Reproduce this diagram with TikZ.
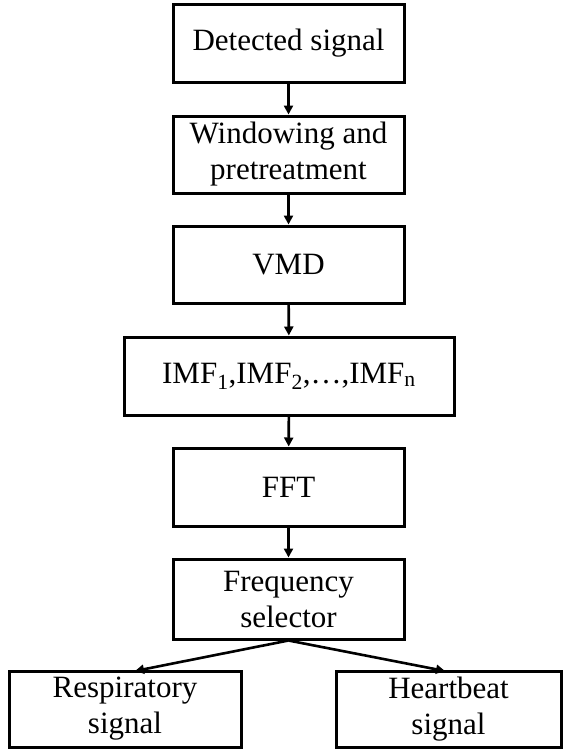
\documentclass[tikz,border=0pt]{standalone}
\usepackage{fontspec}
\setmainfont{Liberation Serif}
\usetikzlibrary{arrows.meta}
\begin{document}
\begin{tikzpicture}[x=1pt,y=-1pt,
  box/.style={draw, line width=3pt, minimum height=78pt, align=center, inner sep=2pt,
    font=\fontsize{31}{36}\selectfont},
  conn/.style={line width=2.6pt, -{Triangle[length=9pt,width=9pt]}}]
\useasboundingbox (0,0) rectangle (563,750);
\node[box, minimum width=231pt] (b1) at (288.5,43) {Detected signal};
\node[box, minimum width=231pt, minimum height=77pt] (b2) at (288.5,154.5) {Windowing and\\pretreatment};
\node[box, minimum width=231pt, minimum height=77pt] (b3) at (288.5,264.5) {VMD};
\node[box, minimum width=330pt] (b4) at (289,376) {IMF\textsubscript{1},IMF\textsubscript{2},\ldots,IMF\textsubscript{n}};
\node[box, minimum width=231pt] (b5) at (288.5,487) {FFT};
\node[box, minimum width=231pt, minimum height=80pt] (b6) at (288.5,599) {Frequency\\selector};
\node[box, minimum width=232pt, minimum height=76pt] (b7) at (125,709) {Respiratory\\signal};
\node[box, minimum width=225pt, minimum height=76pt] (b8) at (448.5,709) {Heartbeat\\signal};
\coordinate (t7) at (135,671);
\coordinate (t8) at (445,671);
\draw[conn] (b1) -- (b2);
\draw[conn] (b2) -- (b3);
\draw[conn] (b3) -- (b4);
\draw[conn] (b4) -- (b5);
\draw[conn] (b5) -- (b6);
\draw[conn] (b6.south) -- (t7);
\draw[conn] (b6.south) -- (t8);
\end{tikzpicture}
\end{document}
